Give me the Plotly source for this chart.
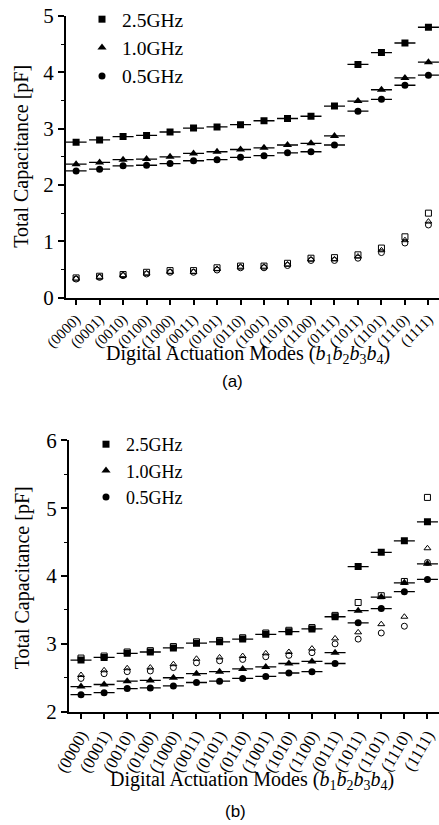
import plotly.graph_objects as go

modes = ["(0000)", "(0001)", "(0010)", "(0100)", "(1000)", "(0011)", "(0101)", "(0110)",
         "(1001)", "(1010)", "(1100)", "(0111)", "(1011)", "(1101)", "(1110)", "(1111)"]

# filled markers (same in both panels)
c25 = [2.76, 2.80, 2.86, 2.88, 2.94, 3.01, 3.03, 3.07, 3.14, 3.18, 3.22, 3.40, 4.14, 4.35, 4.52, 4.80]
c10 = [2.37, 2.40, 2.45, 2.46, 2.50, 2.56, 2.59, 2.63, 2.66, 2.71, 2.74, 2.87, 3.49, 3.69, 3.90, 4.18]
c05 = [2.25, 2.28, 2.34, 2.35, 2.38, 2.43, 2.45, 2.49, 2.52, 2.57, 2.59, 2.71, 3.31, 3.52, 3.77, 3.95]

# open markers, panel (a)
a25 = [0.35, 0.38, 0.41, 0.45, 0.48, 0.48, 0.53, 0.56, 0.56, 0.61, 0.70, 0.71, 0.76, 0.88, 1.08, 1.50]
a10 = [0.34, 0.37, 0.40, 0.43, 0.46, 0.46, 0.51, 0.55, 0.55, 0.59, 0.68, 0.68, 0.73, 0.84, 1.02, 1.35]
a05 = [0.33, 0.36, 0.39, 0.42, 0.45, 0.45, 0.49, 0.53, 0.53, 0.57, 0.66, 0.66, 0.70, 0.80, 0.97, 1.29]

# open markers, panel (b)
b25 = [2.79, 2.82, 2.88, 2.90, 2.96, 3.03, 3.05, 3.09, 3.16, 3.20, 3.24, 3.42, 3.61, 3.71, 3.92, 5.16]
b10 = [2.54, 2.61, 2.64, 2.65, 2.70, 2.78, 2.80, 2.82, 2.86, 2.88, 2.93, 3.08, 3.17, 3.29, 3.40, 4.41]
b05 = [2.49, 2.56, 2.59, 2.60, 2.65, 2.72, 2.75, 2.77, 2.81, 2.83, 2.87, 3.00, 3.07, 3.16, 3.26, 4.20]

names = ["2.5GHz", "1.0GHz", "0.5GHz"]
fsym = ["square", "triangle-up", "circle"]
osym = ["square-open", "triangle-up-open", "circle-open"]
fsize = [7, 8, 7]

SERIF = "Liberation Serif, Times New Roman, serif"
SANS = "Liberation Sans, Arial, sans-serif"

x = list(range(len(modes)))
fig = go.Figure()

panels = [
    ("x", "y", "legend", [a25, a10, a05]),
    ("x2", "y2", "legend2", [b25, b10, b05]),
]
for xa, ya, leg, opens in panels:
    for vals, sym in zip(opens, osym):
        fig.add_trace(go.Scatter(x=x, y=vals, mode="markers", xaxis=xa, yaxis=ya,
                                 showlegend=False,
                                 marker=dict(symbol=sym, size=6, color="black",
                                             line=dict(width=1, color="black"))))
    for vals, sym, nm, sz in zip([c25, c10, c05], fsym, names, fsize):
        fig.add_trace(go.Scatter(x=x, y=vals, mode="markers", xaxis=xa, yaxis=ya,
                                 showlegend=False,
                                 marker=dict(symbol="line-ew", size=15, color="black",
                                             line=dict(width=1.3, color="black"))))
        fig.add_trace(go.Scatter(x=x, y=vals, mode="markers", xaxis=xa, yaxis=ya,
                                 name=nm, legend=leg, showlegend=True,
                                 marker=dict(symbol=sym, size=sz, color="black",
                                             line=dict(width=0))))

H = 825.0
W = 439.0

def ydom(top_px, bot_px):
    return [1 - bot_px / H, 1 - top_px / H]

common_x = dict(
    tickmode="array", tickvals=x, ticktext=modes,
    ticks="outside", ticklen=5, tickwidth=1.5, tickcolor="black",
    showline=True, linecolor="black", linewidth=2, showgrid=False, zeroline=False,
    automargin=False, ticklabeloverflow="allow",
)
common_y = dict(
    ticks="outside", ticklen=6, tickwidth=1.5, tickcolor="black", dtick=1,
    showline=True, linecolor="black", linewidth=2, showgrid=False, zeroline=False,
    tickfont=dict(family=SERIF, size=21, color="black"), automargin=False,
    minor=dict(dtick=0.5, ticks="outside", ticklen=3, tickwidth=1, tickcolor="black"),
)

fig.update_layout(
    width=439, height=825, margin=dict(l=0, r=0, t=0, b=0),
    paper_bgcolor="white", plot_bgcolor="white", showlegend=True,
    xaxis=dict(common_x, domain=[66 / W, 1], range=[-0.43, 15.45], anchor="y",
               tickangle=-45, tickfont=dict(family=SERIF, size=15, color="black")),
    yaxis=dict(common_y, domain=ydom(15, 297), range=[0, 5], anchor="x"),
    xaxis2=dict(common_x, domain=[69 / W, 1], range=[-0.52, 15.5], anchor="y2",
                tickangle=-60, tickfont=dict(family=SERIF, size=17, color="black")),
    yaxis2=dict(common_y, domain=ydom(440, 711.5), range=[2, 6], anchor="x2"),
    legend=dict(x=82 / W, y=1 + 1 / H, xanchor="left", yanchor="top",
                font=dict(family=SERIF, size=19.5, color="black"),
                bgcolor="rgba(0,0,0,0)", itemwidth=30, tracegroupgap=0),
    legend2=dict(x=86 / W, y=1 - 426 / H, xanchor="left", yanchor="top",
                 font=dict(family=SERIF, size=18, color="black"),
                 bgcolor="rgba(0,0,0,0)", itemwidth=30, tracegroupgap=0),
)

xtitle = "Digital Actuation Modes (<i>b</i><sub>1</sub><i>b</i><sub>2</sub><i>b</i><sub>3</sub><i>b</i><sub>4</sub>)"
ytitle = "Total Capacitance [pF]"
ann = [
    dict(text=ytitle, x=22 / W, y=1 - 156 / H, textangle=-90, font=dict(family=SERIF, size=20)),
    dict(text=xtitle, x=248 / W, y=1 - 354 / H, font=dict(family=SERIF, size=20)),
    dict(text="(a)", x=232 / W, y=1 - 381 / H, font=dict(family=SANS, size=17)),
    dict(text=ytitle, x=22 / W, y=1 - 578 / H, textangle=-90, font=dict(family=SERIF, size=20)),
    dict(text=xtitle, x=252 / W, y=1 - 780 / H, font=dict(family=SERIF, size=20)),
    dict(text="(b)", x=235 / W, y=1 - 811 / H, font=dict(family=SANS, size=17)),
]
for a in ann:
    a.update(xref="paper", yref="paper", showarrow=False, xanchor="center", yanchor="middle")
    a["font"]["color"] = "black"
    fig.add_annotation(**a)

fig.write_html("out.html")
